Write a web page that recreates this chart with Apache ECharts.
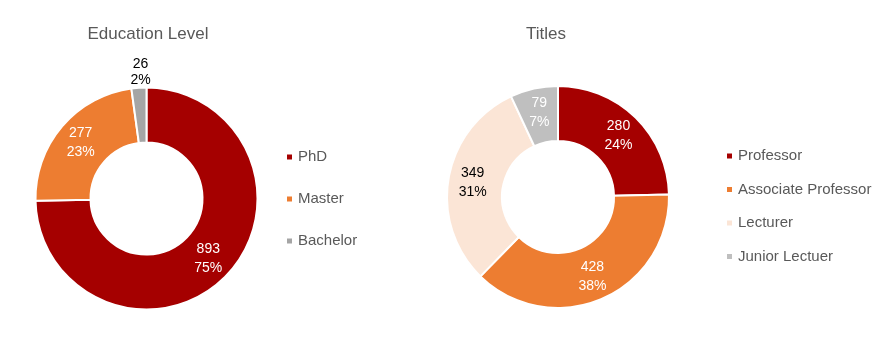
<!DOCTYPE html>
<html>
<head>
<meta charset="utf-8">
<script src="https://cdn.jsdelivr.net/npm/echarts@6/dist/echarts.min.js"></script>
<style>
  html, body { margin: 0; padding: 0; background: #fff; }
  #chart { width: 896px; height: 346px; }
</style>
</head>
<body>
<div id="chart"></div>
<script>
// Staff composition: education level and academic titles
const educationLevels = ['PhD', 'Master', 'Bachelor'];
const educationCounts = [893, 277, 26];
const educationColors = ['#A50000', '#ED7D31', '#A5A5A5'];

const titleNames = ['Professor', 'Associate Professor', 'Lecturer', 'Junior Lectuer'];
const titleCounts = [280, 428, 349, 79];
const titleColors = ['#A50000', '#ED7D31', '#FBE5D6', '#BFBFBF'];

const FONT = "'Liberation Sans Narrow', 'Arial Narrow', 'Liberation Sans', Arial, sans-serif";
const GREY_TEXT = '#595959';

function buildData(names, values, colors, darkLabel, outsideIdx) {
  return names.map((name, i) => {
    const item = {
      name: name,
      value: values[i],
      itemStyle: { color: colors[i] },
      label: { color: darkLabel.includes(i) ? '#000' : '#fff' }
    };
    if (i === outsideIdx) {
      // small slice: its label sits above the ring
      item.label.offset = [0, -40];
      item.label.lineHeight = 16;
    }
    return item;
  });
}

function donut(center, names, values, colors, darkLabel, outsideIdx) {
  return {
    type: 'pie',
    center: center,
    radius: [56, 111],
    startAngle: 90,
    clockwise: true,
    percentPrecision: 0,
    avoidLabelOverlap: false,
    itemStyle: { borderColor: '#fff', borderWidth: 2 },
    label: {
      show: true,
      position: 'inside',
      formatter: '{c}\n{d}%',
      fontFamily: FONT,
      fontSize: 14,
      lineHeight: 19,
      align: 'center'
    },
    labelLine: { show: false },
    emphasis: { disabled: true },
    data: buildData(names, values, colors, darkLabel, outsideIdx)
  };
}

const legendText = { fontFamily: FONT, fontSize: 15, lineHeight: 16, color: GREY_TEXT };

const chart = echarts.init(document.getElementById('chart'));
chart.setOption({
  animation: false,
  backgroundColor: '#fff',
  title: [
    {
      text: 'Education Level', left: 143, top: 21, textAlign: 'center',
      textStyle: { fontFamily: FONT, fontSize: 17, fontWeight: 'normal', color: GREY_TEXT }
    },
    {
      text: 'Titles', left: 541, top: 21, textAlign: 'center',
      textStyle: { fontFamily: FONT, fontSize: 17, fontWeight: 'normal', color: GREY_TEXT }
    }
  ],
  legend: [
    {
      data: educationLevels,
      orient: 'vertical',
      left: 285, top: 149, padding: 0,
      icon: 'rect', itemWidth: 7, itemHeight: 7, itemGap: 26,
      selectedMode: false,
      textStyle: legendText
    },
    {
      data: titleNames,
      orient: 'vertical',
      left: 725, top: 148, padding: 0,
      icon: 'rect', itemWidth: 7, itemHeight: 7, itemGap: 17.5,
      selectedMode: false,
      textStyle: legendText
    }
  ],
  series: [
    donut([146.5, 198.5], educationLevels, educationCounts, educationColors, [2], 2),
    donut([558, 197], titleNames, titleCounts, titleColors, [2], -1)
  ]
});
</script>
</body>
</html>
